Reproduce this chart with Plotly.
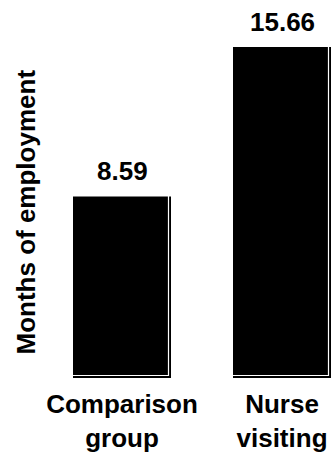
import plotly.graph_objects as go

# Average months of employment by group
categories = ["Comparison<br>group", "Nurse<br>visiting"]
months = [8.59, 15.66]
value_labels = ["8.59", "15.66"]

FONT = "Liberation Sans, Arial, sans-serif"
FS = 26

# pixel geometry of the plot area
W, H = 331, 456
M_L, M_R, M_T, M_B = 42, 0, 46, 78
PX_PER_CAT = 160.0
PX_PER_UNIT = 21.13
plot_w = W - M_L - M_R
plot_h = H - M_T - M_B

bar_w = 0.6125
inset_x = 2.5 / PX_PER_CAT
inset_y = 2.5 / PX_PER_UNIT

fig = go.Figure()

# solid black bars
fig.add_trace(go.Bar(
    x=categories, y=months,
    width=bar_w, offset=-bar_w / 2,
    marker=dict(color="black", line=dict(width=0)),
    hoverinfo="skip", showlegend=False,
))

# thin white inner rule along the right and bottom edges of each bar
fig.add_trace(go.Bar(
    x=categories, y=months,
    base=inset_y,
    offset=-0.5, width=0.5 + bar_w / 2 - inset_x,
    marker=dict(color="rgba(0,0,0,0)", line=dict(color="white", width=1.2)),
    hoverinfo="skip", showlegend=False,
))

# value labels above the bars
for c, v, t in zip(categories, months, value_labels):
    fig.add_annotation(
        x=c, y=v, text=t, showarrow=False,
        xanchor="center", yanchor="bottom", yshift=8,
        font=dict(family=FONT, size=FS, color="black", weight="bold"),
    )

# rotated axis title
fig.add_annotation(
    xref="paper", yref="paper",
    x=(25 - M_L) / plot_w, y=(378 - 212.5) / plot_h,
    text="Months of employment", textangle=-90, showarrow=False,
    xanchor="center", yanchor="middle",
    font=dict(family=FONT, size=FS, color="black", weight="bold"),
)

fig.update_layout(
    width=W, height=H,
    margin=dict(l=M_L, r=M_R, t=M_T, b=M_B, pad=0),
    barmode="overlay",
    plot_bgcolor="white", paper_bgcolor="white",
    font=dict(family=FONT, size=FS, color="black"),
    xaxis=dict(
        range=[-0.5, -0.5 + plot_w / PX_PER_CAT],
        showgrid=False, zeroline=False, showline=False, ticks="",
        ticklabelstandoff=8,
        tickfont=dict(family=FONT, size=FS, color="black", weight="bold"),
    ),
    yaxis=dict(
        range=[0, plot_h / PX_PER_UNIT],
        showgrid=False, zeroline=False, showline=False,
        showticklabels=False, ticks="",
    ),
)

fig.write_html("out.html")
